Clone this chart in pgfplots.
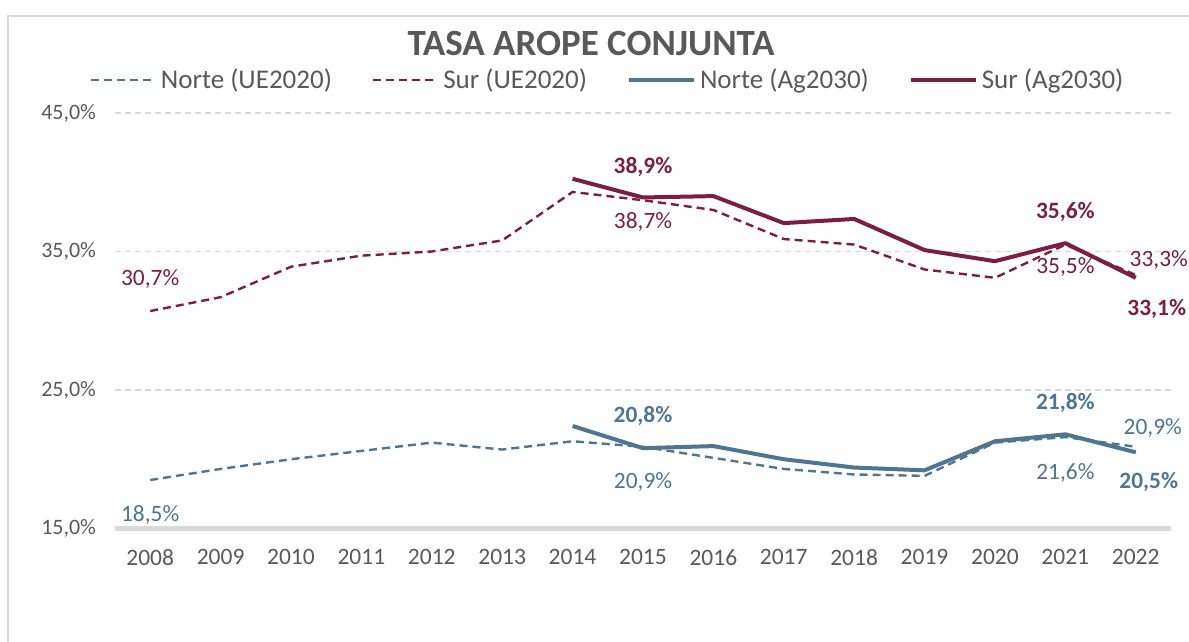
\documentclass[border=0pt]{standalone}
\usepackage{pgfplots}
\pgfplotsset{compat=1.18}
\usepackage{pgfplotstable}
\usepackage{fontspec}
\setmainfont{Carlito}
\definecolor{norte}{RGB}{80,117,145}
\definecolor{sur}{RGB}{122,30,68}
\definecolor{txt}{RGB}{89,89,89}
\definecolor{gridc}{RGB}{217,217,217}

\pgfplotstableread{
x y
2008 30.7
2009 31.7
2010 33.9
2011 34.7
2012 35.0
2013 35.8
2014 39.3
2015 38.7
2016 38.0
2017 35.9
2018 35.5
2019 33.7
2020 33.1
2021 35.5
2022 33.3
}\surUE

\pgfplotstableread{
x y
2014 40.25
2015 38.9
2016 39.0
2017 37.05
2018 37.35
2019 35.1
2020 34.3
2021 35.6
2022 33.1
}\surAG

\pgfplotstableread{
x y
2008 18.5
2009 19.3
2010 20.0
2011 20.6
2012 21.2
2013 20.7
2014 21.3
2015 20.9
2016 20.1
2017 19.3
2018 18.9
2019 18.8
2020 21.2
2021 21.6
2022 20.9
}\norteUE

\pgfplotstableread{
x y
2014 22.4
2015 20.8
2016 20.95
2017 20.0
2018 19.4
2019 19.2
2020 21.3
2021 21.8
2022 20.5
}\norteAG

% data labels: x y dx dy (pt)
\pgfplotstableread{
x y dx dy
2008 30.7 0 16
2015 38.7 0 -10.7
2021 35.5 0 -11
2022 33.3 11.5 7.5
}\labSurUE
\pgfplotstableread{
x y dx dy
2015 38.9 0 15.25
2021 35.6 0 15.5
2022 33.1 10.5 -15.5
}\labSurAG
\pgfplotstableread{
x y dx dy
2008 18.5 0 -17.5
2015 20.9 0 -17.5
2021 21.6 0 -18
2022 20.9 8.5 9.5
}\labNorteUE
\pgfplotstableread{
x y dx dy
2015 20.8 0 16
2021 21.8 0 15.5
2022 20.5 6.5 -15
}\labNorteAG

\pgfplotsset{
  lab/.style={
    draw=none, forget plot, point meta=y,
    nodes near coords={\pgfmathprintnumber[fixed,fixed zerofill,precision=1,use comma,assume math mode=true]{\pgfplotspointmeta}\%},
    visualization depends on={\thisrow{dx}\as\dx},
    visualization depends on={\thisrow{dy}\as\dy},
    every node near coord/.append style={anchor=center, xshift=\dx pt, yshift=\dy pt, inner sep=0pt, #1},
  },
}

\begin{document}
\begin{tikzpicture}
\path[use as bounding box] (-57.5pt,-56.75pt) rectangle (537pt,264.25pt);
\draw[gridc, line width=0.8pt] (-53.5pt,-57pt) -- (-53.5pt,256.25pt) -- (538pt,256.25pt);
\begin{axis}[
  at={(0pt,0pt)}, anchor=south west,
  scale only axis, width=528pt, height=207.75pt,
  clip=false,
  xmin=2007.5, xmax=2022.5,
  ymin=15, ymax=45,
  xtick={2008,...,2022},
  ytick={25,35,45},
  extra y ticks={15},
  extra y tick style={major grid style={draw=gridc, solid, line width=2.5pt}},
  ymajorgrids,
  major grid style={draw=gridc, line width=0.6pt, dash pattern=on 3pt off 2pt},
  axis line style={draw=none},
  major tick length=0pt,
  tick style={draw=none},
  /pgf/number format/assume math mode=true,
  x tick label style={/pgf/number format/1000 sep={}, font=\fontsize{11.75}{14}\selectfont, text=txt, yshift=-7pt},
  yticklabel={\pgfmathprintnumber[fixed,fixed zerofill,precision=1,use comma]{\tick}\%},
  y tick label style={font=\fontsize{11}{13}\selectfont, text=txt, anchor=east, xshift=-6pt},
  title={TASA AROPE CONJUNTA},
  title style={at={(0.4508,1.138)}, anchor=center, font=\bfseries\fontsize{18.5}{22}\selectfont, text=txt},
  legend columns=4,
  legend style={at={(0.4673,1.0794)}, anchor=center, draw=none, fill=none,
    font=\fontsize{13.5}{15}\selectfont, text=txt,
    /tikz/every even column/.append style={column sep=18pt}},
  legend image code/.code={\draw[#1] (0pt,0pt) -- (32.5pt,0pt);},
]
\addplot[norte, line width=1.2pt, dash pattern=on 4pt off 2.5pt] table[x=x,y=y] {\norteUE};
\addlegendentry{Norte (UE2020)}
\addplot[sur, line width=1.2pt, dash pattern=on 4pt off 2.5pt] table[x=x,y=y] {\surUE};
\addlegendentry{Sur (UE2020)}
\addplot[norte, line width=2pt, line join=round] table[x=x,y=y] {\norteAG};
\addlegendentry{Norte (Ag2030)}
\addplot[sur, line width=2pt, line join=round] table[x=x,y=y] {\surAG};
\addlegendentry{Sur (Ag2030)}

\addplot[lab={font=\fontsize{11.7}{14}\selectfont, text=sur}] table[x=x,y=y] {\labSurUE};
\addplot[lab={font=\bfseries\fontsize{11.7}{14}\selectfont, text=sur}] table[x=x,y=y] {\labSurAG};
\addplot[lab={font=\fontsize{11.7}{14}\selectfont, text=norte}] table[x=x,y=y] {\labNorteUE};
\addplot[lab={font=\bfseries\fontsize{11.7}{14}\selectfont, text=norte}] table[x=x,y=y] {\labNorteAG};
\end{axis}
\end{tikzpicture}
\end{document}
